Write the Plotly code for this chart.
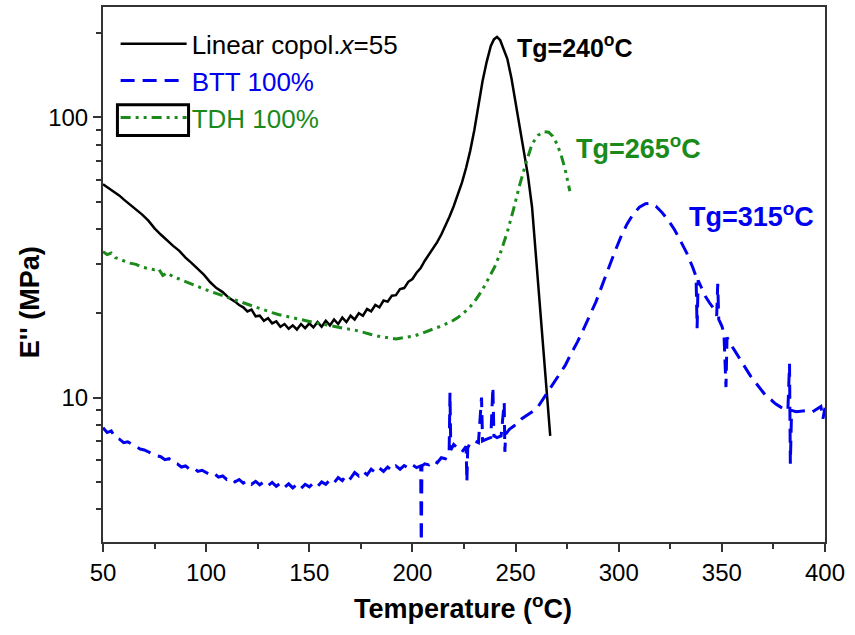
import math
import plotly.graph_objects as go

# ---------------- data ----------------
black_T = [50, 52, 54, 56, 58, 60, 63, 66, 69, 72, 75, 78, 81, 84, 87, 90, 93, 96, 99, 102,
           105, 108, 111, 114, 116, 118, 120, 122, 124, 126, 128, 130, 132, 134, 136, 138, 140,
           142, 144, 146, 148, 150, 152, 154, 156, 158, 160, 162, 164, 166, 168, 170, 172, 174,
           176, 178, 180, 182, 184, 186, 188, 190, 192, 194, 196, 198, 200, 202, 204, 206, 208,
           210, 212, 214, 216, 218, 220, 222, 224, 226, 228, 230, 232, 234, 236, 238, 239.5, 241,
           242.5, 244, 246, 248, 250, 252, 254, 256, 258, 260, 262, 264, 266.8]
black_E = [57.8, 56.5, 55.2, 53.8, 52.6, 51.0, 49.0, 47.0, 45.0, 42.8, 40.2, 38.2, 36.4, 34.8,
           33.4, 31.6, 30.2, 28.7, 27.4, 25.8, 24.6, 23.8, 22.7, 22.0, 21.4, 21.0, 20.3, 20.6,
           19.5, 19.6, 18.8, 19.2, 18.4, 18.7, 17.9, 18.3, 17.6, 18.1, 17.5, 18.3, 17.7, 18.4,
           17.8, 18.6, 17.9, 18.8, 18.1, 19.0, 18.3, 19.3, 18.6, 19.6, 19.0, 20.0, 19.6, 20.7,
           20.3, 21.4, 21.0, 22.2, 22.0, 23.1, 23.2, 24.4, 24.6, 25.9, 26.5, 27.9, 29.0, 30.8,
           32.4, 34.0, 35.9, 38.2, 41.0, 44.3, 48.2, 53.0, 58.5, 66, 76, 90, 112, 135, 158, 180,
           190, 194, 189, 178, 162, 138, 113, 92, 75, 62, 47.8, 31.1, 20.3, 13.3, 7.3]

green_T = [50, 52, 54, 56, 58, 60, 63, 66, 69, 72, 75, 77, 79, 81, 84, 87, 90, 93, 96, 99, 102,
           105, 108, 111, 114, 117, 120, 123, 126, 129, 132, 135, 138, 141, 144, 147, 150, 153,
           156, 159, 162, 165, 168, 171, 174, 177, 180, 183, 186, 189, 192, 195, 198, 201, 204,
           207, 210, 213, 216, 219, 222, 225, 228, 231, 234, 237, 240, 243, 246, 249, 252, 255,
           258, 261, 264, 266, 268, 270, 272, 274, 276.3]
green_E = [33.2, 32.4, 32.8, 31.6, 31.2, 30.8, 30.2, 29.9, 29.2, 28.9, 28.6, 28.8, 27.3, 27.9,
           27.0, 26.5, 25.9, 25.4, 24.9, 24.4, 24.0, 23.5, 23.1, 22.7, 22.3, 21.9, 21.5, 21.1,
           20.8, 20.4, 20.1, 19.8, 19.6, 19.3, 19.1, 18.9, 18.7, 18.5, 18.3, 18.1, 17.9, 17.8,
           17.6, 17.5, 17.3, 17.1, 16.8, 16.6, 16.4, 16.3, 16.2, 16.3, 16.4, 16.6, 16.9, 17.2,
           17.5, 17.9, 18.3, 18.7, 19.3, 20.1, 21.1, 22.5, 24.3, 26.6, 29.4, 33.4, 39.0, 47.0,
           57.5, 68.5, 80.5, 86.5, 89.0, 88.6, 85.8, 80.6, 73.8, 65.4, 54.6]

blue_T = [50, 52, 54, 56, 58, 60, 62, 64, 66, 68, 70, 72, 74, 76, 78, 80, 82, 84, 86, 88, 90,
          92, 94, 96, 98, 100, 102, 104, 106, 108, 110, 112, 114, 116, 118, 120, 122, 124, 126,
          128, 130, 132, 134, 136, 138, 140, 142, 144, 146, 148, 150, 152, 154, 156, 158, 160,
          162, 164, 166, 168, 170, 172, 174, 176, 178, 180, 182, 184, 186, 188, 190, 192, 194,
          196, 198, 200, 202, 204, 204.3, 204.6, 206, 208, 210, 212, 214, 216, 217.8, 218.2,
          218.6, 220, 222, 224, 226, 226.4, 226.8, 228, 230, 232, 233.5, 234, 236, 238, 239,
          239.5, 241, 243, 244.5, 244.8, 245.2, 247, 249, 251, 253, 255, 257, 259, 261, 263,
          265, 268, 271, 274, 277, 280, 283, 286, 289, 292, 295, 298, 301, 304, 307, 310, 313,
          315, 318, 321, 324, 327, 330, 333, 336, 337.5, 338, 338.5, 340, 342, 344, 346, 347.5,
          348, 348.5, 350, 351, 352, 352.5, 354, 356, 358, 360, 362, 364, 366, 368, 370, 372,
          374, 376, 378, 380, 382, 382.8, 383.2, 383.8, 386, 388, 390, 392, 394, 396, 398, 399,
          400]
blue_E = [7.8, 7.5, 7.6, 7.2, 7.1, 6.9, 6.95, 6.8, 6.7, 6.55, 6.5, 6.4, 6.3, 6.2, 6.15, 6.0,
          6.05, 5.85, 5.8, 5.65, 5.7, 5.55, 5.6, 5.45, 5.5, 5.4, 5.3, 5.35, 5.2, 5.25, 5.1, 5.15,
          5.0, 5.1, 4.95, 5.05, 4.9, 5.02, 4.88, 5.0, 4.85, 4.98, 4.82, 4.95, 4.78, 4.92, 4.76,
          4.9, 4.74, 4.9, 4.8, 4.95, 4.82, 5.0, 4.9, 5.08, 4.96, 5.18, 5.05, 5.3, 5.15, 5.4,
          5.25, 5.45, 5.3, 5.55, 5.4, 5.6, 5.45, 5.65, 5.5, 5.7, 5.55, 5.72, 5.6, 5.75, 5.62,
          5.7, 2.8, 5.7, 5.8, 5.75, 5.95, 5.85, 6.1, 6.05, 6.4, 10.4, 6.5, 6.8, 6.6, 6.4, 6.7,
          5.0, 6.6, 6.9, 7.0, 6.9, 10.0, 7.0, 7.1, 7.2, 10.9, 7.3, 7.2, 7.3, 9.6, 6.4, 7.4, 7.7,
          7.9, 8.1, 8.4, 8.6, 8.8, 9.0, 9.3, 9.8, 10.3, 11.2, 12.1, 13.0, 14.4, 15.8, 17.6,
          19.6, 22.0, 25.2, 29.0, 33.0, 37.4, 41.6, 45.2, 47.8, 49.2, 49.4, 48.2, 45.8, 43.0,
          39.8, 36.2, 32.8, 29.0, 27.0, 17.7, 26.2, 24.8, 23.0, 21.8, 20.8, 19.6, 25.5, 19.0,
          18.0, 17.0, 10.9, 16.4, 15.6, 14.8, 14.0, 13.2, 12.5, 11.9, 11.4, 10.9, 10.4, 10.0,
          9.8, 9.5, 9.3, 9.1, 9.0, 13.2, 5.8, 9.0, 8.9, 8.95, 9.0, 9.0, 8.9, 9.1, 9.3, 8.4, 9.2]

x_ticks = [50, 100, 150, 200, 250, 300, 350, 400]
y_ticks = [10, 100]
y_minor = [4, 5, 6, 7, 8, 9, 20, 30, 40, 50, 60, 70, 80, 90, 200]

BLUE = "#0000ee"
GREEN = "#1a8a1a"
FONT = "Arial, Liberation Sans, sans-serif"

fig = go.Figure()
fig.add_trace(go.Scatter(x=black_T, y=black_E, mode="lines",
                         name="Linear copol.<i>x</i>=55",
                         line=dict(color="black", width=2.5)))
fig.add_trace(go.Scatter(x=blue_T, y=blue_E, mode="lines",
                         name="<span style='color:%s'>BTT 100%%</span>" % BLUE,
                         line=dict(color=BLUE, width=3, dash="14px,8px")))
fig.add_trace(go.Scatter(x=green_T, y=green_E, mode="lines",
                         name="<span style='color:%s'>TDH 100%%</span>" % GREEN,
                         line=dict(color=GREEN, width=3, dash="10px,5px,3px,5px,3px,5px")))

annos = [
    dict(x=249.6, y=math.log10(180), text="<b>Tg=240<sup>o</sup>C</b>", font=dict(size=25, color="black")),
    dict(x=278.2, y=math.log10(78.5), text="<b>Tg=265<sup>o</sup>C</b>", font=dict(size=27, color=GREEN)),
    dict(x=333.2, y=math.log10(45.0), text="<b>Tg=315<sup>o</sup>C</b>", font=dict(size=27, color=BLUE)),
]
for a in annos:
    fig.add_annotation(xref="x", yref="y", xanchor="left", yanchor="middle",
                       showarrow=False, **a)

fig.add_annotation(xref="paper", yref="paper", x=-0.102, y=0.449, textangle=-90,
                   text="<b>E'' (MPa)</b>", showarrow=False,
                   font=dict(size=27, color="black"), xanchor="center", yanchor="middle")
fig.add_annotation(xref="paper", yref="paper", x=0.499, y=-0.121,
                   text="<b>Temperature (<sup>o</sup>C)</b>", showarrow=False,
                   font=dict(size=27, color="black"), xanchor="center", yanchor="middle")

fig.add_shape(type="rect", xref="paper", yref="paper", x0=0.020, x1=0.1185, y0=0.760, y1=0.8175,
              line=dict(color="black", width=3))

fig.update_layout(
    width=855, height=635,
    margin=dict(l=103, r=30, t=5, b=93),
    paper_bgcolor="white", plot_bgcolor="white",
    font=dict(family=FONT, color="black", size=24),
    showlegend=True,
    legend=dict(x=0.0175, y=0.975, xanchor="left", yanchor="top", bgcolor="rgba(0,0,0,0)",
                font=dict(size=26, color="black"), itemwidth=66, tracegroupgap=0),
    xaxis=dict(range=[50, 400], tickvals=x_ticks, ticks="outside", ticklen=8, tickwidth=2,
               tickcolor="#333", showline=True, linecolor="#333", linewidth=2, mirror=True,
               showgrid=False, zeroline=False, tickfont=dict(size=24),
               minor=dict(ticks="outside", ticklen=5, tickwidth=2, tickcolor="#333", dtick=25, showgrid=False)),
    yaxis=dict(type="log", range=[math.log10(3.05), math.log10(248)], tickvals=y_ticks,
               ticktext=["10", "100"], ticks="outside", ticklen=8, tickwidth=2, tickcolor="#333",
               showline=True, linecolor="#333", linewidth=2, mirror=True, showgrid=False,
               zeroline=False, tickfont=dict(size=24),
               minor=dict(ticks="outside", ticklen=5, tickwidth=2, tickcolor="#333",
                          tickvals=y_minor, showgrid=False)),
)

fig.write_html("out.html")
